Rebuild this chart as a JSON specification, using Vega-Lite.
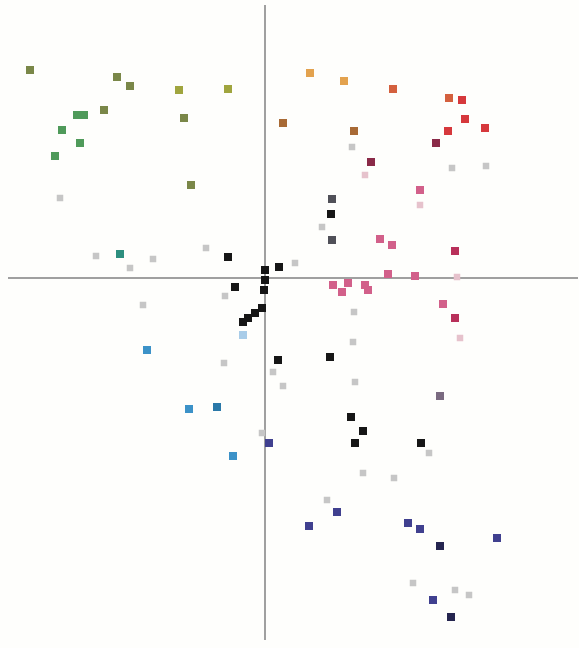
{
  "$schema": "https://vega.github.io/schema/vega-lite/v6.json",
  "width": 579,
  "height": 648,
  "autosize": {"type": "fit", "contains": "padding"},
  "padding": 0,
  "background": "#fefefc",
  "config": {"view": {"stroke": null}},
  "data": {"values": [
    {"x": -235, "y": 208, "g": "olive"},
    {"x": -148, "y": 201, "g": "olive"},
    {"x": -135, "y": 192, "g": "olive"},
    {"x": -161, "y": 168, "g": "olive"},
    {"x": -81, "y": 160, "g": "olive"},
    {"x": -74, "y": 93, "g": "olive"},
    {"x": -86, "y": 188, "g": "yellowgreen"},
    {"x": -37, "y": 189, "g": "yellowgreen"},
    {"x": -188, "y": 163, "g": "green"},
    {"x": -181, "y": 163, "g": "green"},
    {"x": -203, "y": 148, "g": "green"},
    {"x": -185, "y": 135, "g": "green"},
    {"x": -210, "y": 122, "g": "green"},
    {"x": -205, "y": 80, "g": "grey"},
    {"x": -169, "y": 22, "g": "grey"},
    {"x": -135, "y": 10, "g": "grey"},
    {"x": -112, "y": 19, "g": "grey"},
    {"x": -59, "y": 30, "g": "grey"},
    {"x": 30, "y": 15, "g": "grey"},
    {"x": 87, "y": 131, "g": "grey"},
    {"x": 100, "y": 103, "g": "lightpink"},
    {"x": 187, "y": 110, "g": "grey"},
    {"x": 221, "y": 112, "g": "grey"},
    {"x": 155, "y": 73, "g": "lightpink"},
    {"x": 57, "y": 51, "g": "grey"},
    {"x": 192, "y": 1, "g": "lightpink"},
    {"x": 195, "y": -60, "g": "lightpink"},
    {"x": 89, "y": -34, "g": "grey"},
    {"x": 88, "y": -64, "g": "grey"},
    {"x": 8, "y": -94, "g": "grey"},
    {"x": 18, "y": -108, "g": "grey"},
    {"x": 90, "y": -104, "g": "grey"},
    {"x": 164, "y": -175, "g": "grey"},
    {"x": 98, "y": -195, "g": "grey"},
    {"x": 129, "y": -200, "g": "grey"},
    {"x": 62, "y": -222, "g": "grey"},
    {"x": 148, "y": -305, "g": "grey"},
    {"x": 190, "y": -312, "g": "grey"},
    {"x": 204, "y": -317, "g": "grey"},
    {"x": -40, "y": -18, "g": "grey"},
    {"x": -122, "y": -27, "g": "grey"},
    {"x": -41, "y": -85, "g": "grey"},
    {"x": -3, "y": -155, "g": "grey"},
    {"x": -145, "y": 24, "g": "teal"},
    {"x": -37, "y": 21, "g": "black"},
    {"x": 14, "y": 11, "g": "black"},
    {"x": 0, "y": 8, "g": "black"},
    {"x": 0, "y": -2, "g": "black"},
    {"x": -1, "y": -12, "g": "black"},
    {"x": -30, "y": -9, "g": "black"},
    {"x": -3, "y": -30, "g": "black"},
    {"x": -10, "y": -35, "g": "black"},
    {"x": -17, "y": -40, "g": "black"},
    {"x": -22, "y": -44, "g": "black"},
    {"x": 66, "y": 64, "g": "black"},
    {"x": 65, "y": -79, "g": "black"},
    {"x": 13, "y": -82, "g": "black"},
    {"x": 86, "y": -139, "g": "black"},
    {"x": 98, "y": -153, "g": "black"},
    {"x": 90, "y": -165, "g": "black"},
    {"x": 156, "y": -165, "g": "black"},
    {"x": 67, "y": 79, "g": "darkgrey"},
    {"x": 67, "y": 38, "g": "darkgrey"},
    {"x": 175, "y": -118, "g": "purplegrey"},
    {"x": 45, "y": 205, "g": "orange"},
    {"x": 79, "y": 197, "g": "orange"},
    {"x": 18, "y": 155, "g": "brown"},
    {"x": 89, "y": 147, "g": "brown"},
    {"x": 128, "y": 189, "g": "redorange"},
    {"x": 184, "y": 180, "g": "redorange"},
    {"x": 197, "y": 178, "g": "red"},
    {"x": 200, "y": 159, "g": "red"},
    {"x": 220, "y": 150, "g": "red"},
    {"x": 183, "y": 147, "g": "red"},
    {"x": 171, "y": 135, "g": "darkred"},
    {"x": 106, "y": 116, "g": "darkred"},
    {"x": 155, "y": 88, "g": "pink"},
    {"x": 115, "y": 39, "g": "pink"},
    {"x": 127, "y": 33, "g": "pink"},
    {"x": 190, "y": 27, "g": "deeppink"},
    {"x": 123, "y": 4, "g": "pink"},
    {"x": 150, "y": 2, "g": "pink"},
    {"x": 68, "y": -7, "g": "pink"},
    {"x": 77, "y": -14, "g": "pink"},
    {"x": 83, "y": -5, "g": "pink"},
    {"x": 100, "y": -7, "g": "pink"},
    {"x": 103, "y": -12, "g": "pink"},
    {"x": 178, "y": -26, "g": "pink"},
    {"x": 190, "y": -40, "g": "deeppink"},
    {"x": -118, "y": -72, "g": "blue"},
    {"x": -76, "y": -131, "g": "blue"},
    {"x": -48, "y": -129, "g": "darkblue"},
    {"x": -32, "y": -178, "g": "blue"},
    {"x": -22, "y": -57, "g": "lightblue"},
    {"x": 4, "y": -165, "g": "navy"},
    {"x": 72, "y": -234, "g": "navy"},
    {"x": 44, "y": -248, "g": "navy"},
    {"x": 143, "y": -245, "g": "navy"},
    {"x": 155, "y": -251, "g": "navy"},
    {"x": 232, "y": -260, "g": "navy"},
    {"x": 168, "y": -322, "g": "navy"},
    {"x": 175, "y": -268, "g": "darknavy"},
    {"x": 186, "y": -339, "g": "darknavy"}
  ]},
  "layer": [
    {
      "mark": {"type": "rule", "color": "#a0a0a0", "strokeWidth": 1.5},
      "encoding": {
        "x": {"datum": 0, "type": "quantitative", "scale": {"domain": [-265, 314], "nice": false, "zero": false}, "axis": null},
        "y": {"datum": 273, "type": "quantitative", "scale": {"domain": [-370, 278], "nice": false, "zero": false}, "axis": null},
        "y2": {"datum": -362}
      }
    },
    {
      "mark": {"type": "rule", "color": "#a0a0a0", "strokeWidth": 1.5},
      "encoding": {
        "y": {"datum": 0, "type": "quantitative"},
        "x": {"datum": -257, "type": "quantitative"},
        "x2": {"datum": 313}
      }
    },
    {
      "transform": [{"filter": "datum.g == 'grey' || datum.g == 'lightpink'"}],
      "mark": {"type": "square", "filled": true, "size": 42, "opacity": 1},
      "encoding": {
        "x": {"field": "x", "type": "quantitative"},
        "y": {"field": "y", "type": "quantitative"},
        "color": {"field": "g", "type": "nominal", "legend": null,
          "scale": {
            "domain": ["olive", "yellowgreen", "green", "grey", "lightpink", "teal", "black", "darkgrey", "purplegrey", "orange", "brown", "redorange", "red", "darkred", "pink", "deeppink", "blue", "darkblue", "lightblue", "navy", "darknavy"],
            "range": ["#7a8748", "#a0a53e", "#4f9a5a", "#c6c6c6", "#e6c2cc", "#2d8f7f", "#161616", "#505058", "#7a6a80", "#e3a24e", "#a86a35", "#d4603e", "#d6383c", "#8a2a48", "#d2608a", "#b8305a", "#3c92c8", "#2a78a8", "#a8cce8", "#40408f", "#25254f"]
          }
        }
      }
    },
    {
      "transform": [{"filter": "datum.g != 'grey' && datum.g != 'lightpink'"}],
      "mark": {"type": "square", "filled": true, "size": 64, "opacity": 1},
      "encoding": {
        "x": {"field": "x", "type": "quantitative"},
        "y": {"field": "y", "type": "quantitative"},
        "color": {"field": "g", "type": "nominal", "legend": null}
      }
    }
  ]
}
